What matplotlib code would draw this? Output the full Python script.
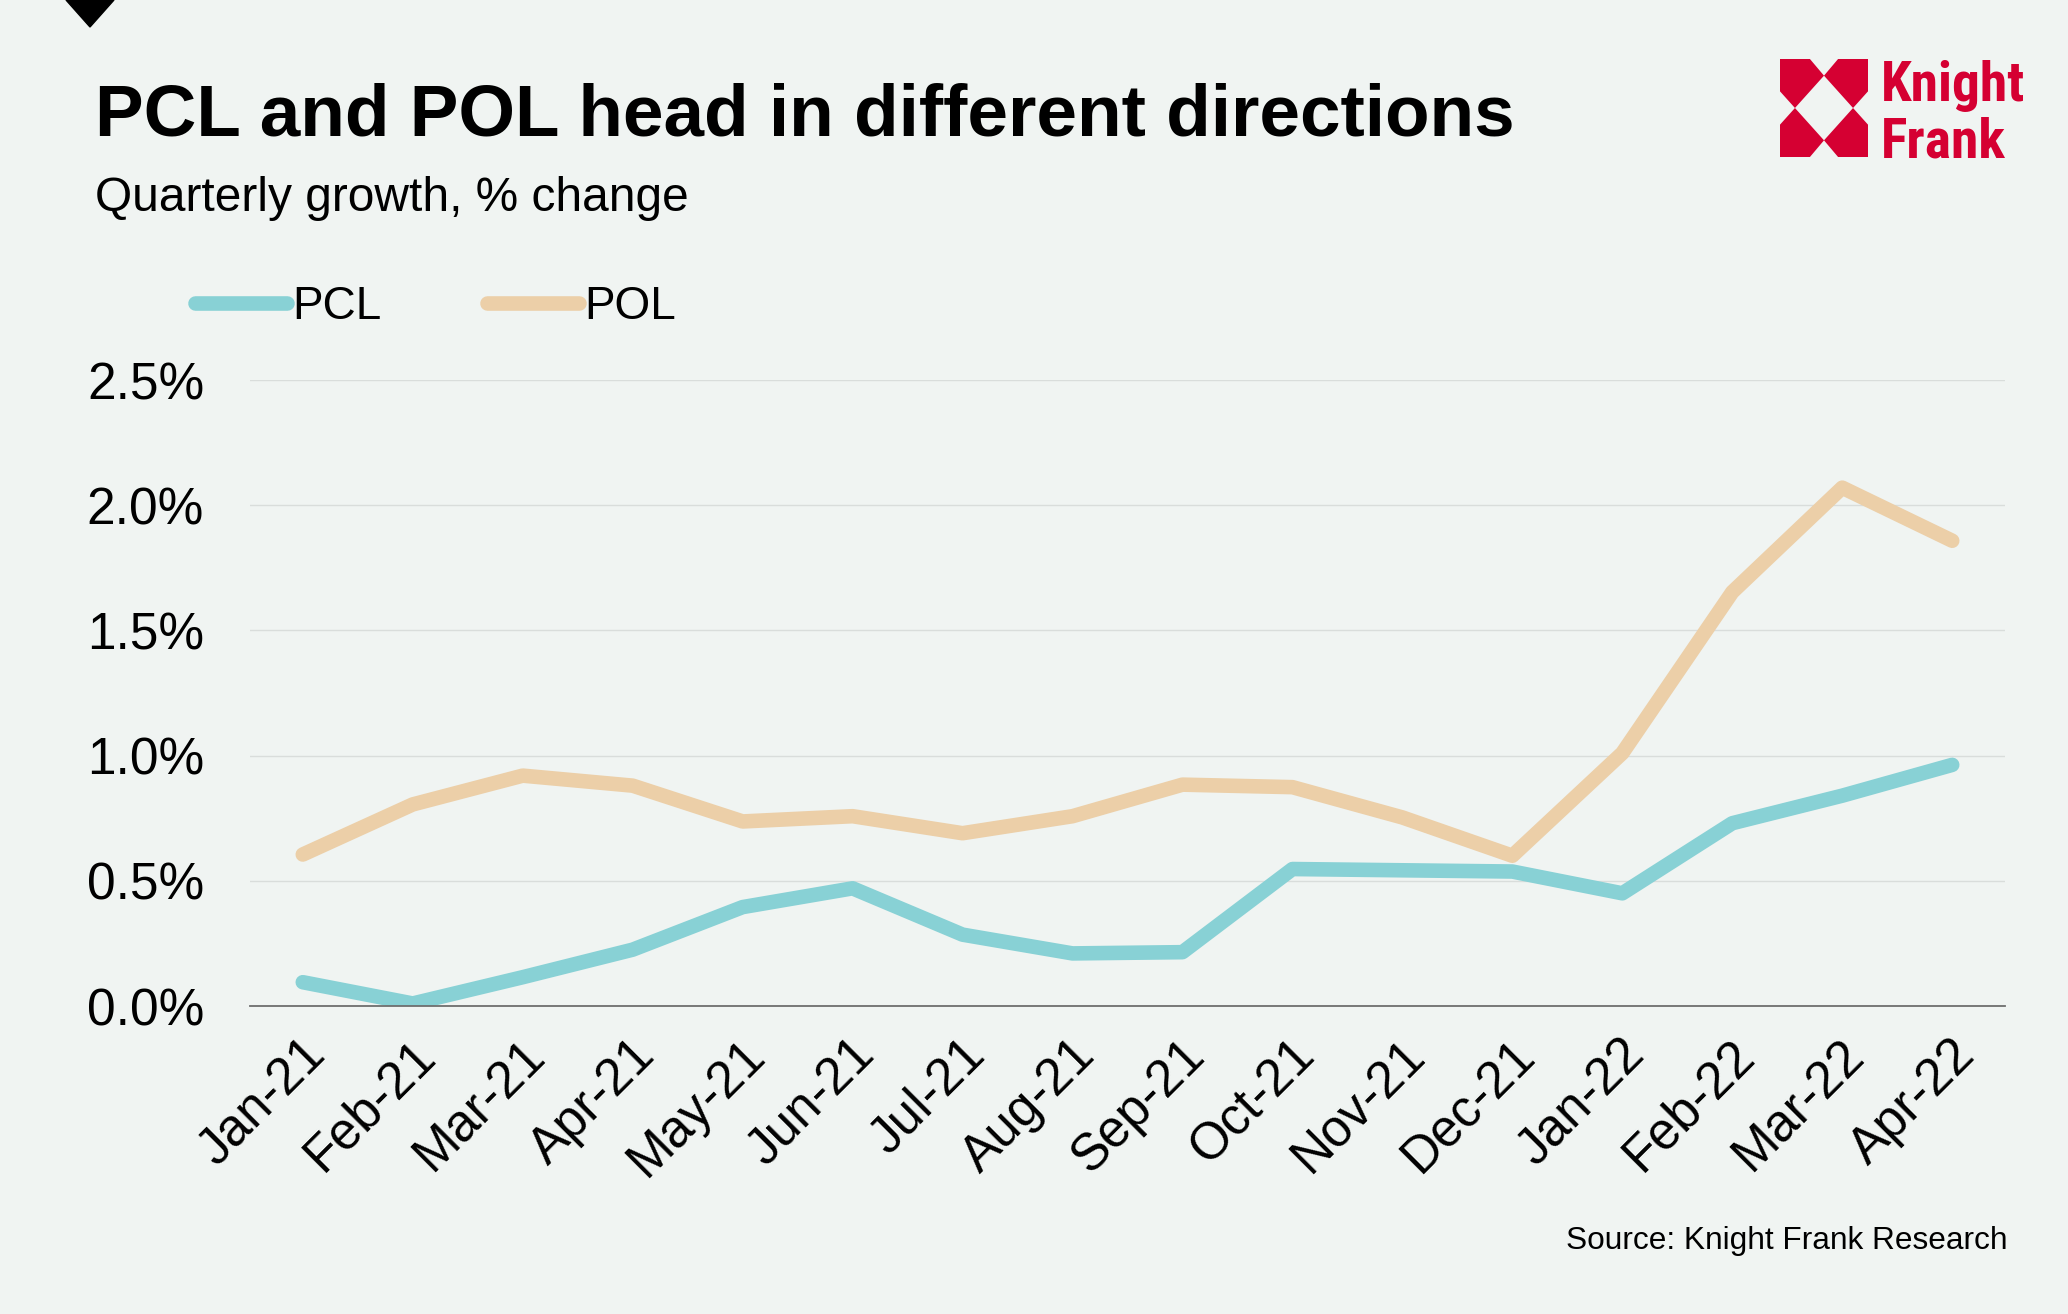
import matplotlib.pyplot as plt
from matplotlib.patches import Polygon
from matplotlib.transforms import ScaledTranslation
from matplotlib import font_manager

W, H = 2068, 1314
BG = "#F0F4F2"
RED = "#D50032"

months = ["Jan-21", "Feb-21", "Mar-21", "Apr-21", "May-21", "Jun-21", "Jul-21", "Aug-21",
          "Sep-21", "Oct-21", "Nov-21", "Dec-21", "Jan-22", "Feb-22", "Mar-22", "Apr-22"]
pcl = [0.095, 0.01, 0.115, 0.225, 0.395, 0.47, 0.285, 0.21,
       0.215, 0.547, 0.542, 0.537, 0.45, 0.73, 0.84, 0.963]
pol = [0.605, 0.805, 0.92, 0.88, 0.737, 0.758, 0.69, 0.758,
       0.884, 0.874, 0.753, 0.60, 1.01, 1.653, 2.07, 1.858]
yticks = [0.0, 0.5, 1.0, 1.5, 2.0, 2.5]

plt.rcParams['font.family'] = ['Liberation Sans', 'DejaVu Sans']

# pick a narrow face for the logo if one is around
names = {f.name for f in font_manager.fontManager.ttflist}
logo_font = 'Liberation Sans'
logo_size = 35
for cand in ['Liberation Sans Narrow', 'DejaVu Sans Condensed', 'Roboto Condensed']:
    if cand in names:
        logo_font = cand
        logo_size = 40
        break


def fx(px):
    return px / W


def fy(py):
    return 1 - py / H


fig = plt.figure(figsize=(W / 100, H / 100), dpi=100, facecolor=BG)
ax = fig.add_axes([fx(250), fy(1006), fx(2005) - fx(250), fy(380) - fy(1006)])
ax.set_facecolor(BG)

x = list(range(len(months)))
ax.plot(x, pcl, color="#88D1D5", lw=10.5, solid_capstyle='round', solid_joinstyle='round',
        label="PCL", zorder=3)
ax.plot(x, pol, color="#ECCFA8", lw=10.5, solid_capstyle='round', solid_joinstyle='round',
        label="POL", zorder=3)

ax.set_xlim(-0.48, len(months) - 1 + 0.48)
ax.set_ylim(0, 2.5)
ax.set_yticks(yticks)
ax.set_yticklabels([f"{v:.1f}%" for v in yticks])
ax.yaxis.grid(True, color="#D9DDDB", lw=1)
ax.set_axisbelow(True)
for s in ["top", "right", "left"]:
    ax.spines[s].set_visible(False)
ax.spines["bottom"].set_color("#6E6E6E")
ax.spines["bottom"].set_linewidth(1.3)
ax.spines["bottom"].set_zorder(4)
ax.tick_params(axis='both', length=0, labelsize=37)
ax.tick_params(axis='y', pad=33)
ax.tick_params(axis='x', pad=30)

ax.set_xticks(x)
ax.set_xticklabels(months, rotation=45, ha='right', va='center', rotation_mode='anchor')
for lbl in ax.get_xticklabels():
    lbl.set_transform(lbl.get_transform() + ScaledTranslation(0.15, 0, fig.dpi_scale_trans))

leg = ax.legend(loc='center left', bbox_to_anchor=(fx(195), fy(307)), bbox_transform=fig.transFigure,
                ncol=2, frameon=False, fontsize=33, handlelength=2.0, handletextpad=0.12,
                columnspacing=2.3, borderpad=0, borderaxespad=0)

# titles
fig.text(fx(95), fy(136), "PCL and POL head in different directions", fontsize=52.5,
         fontweight='bold', va='baseline')
fig.text(fx(95), fy(211), "Quarterly growth, % change", fontsize=34.5, va='baseline')
fig.text(fx(2008), fy(1249), "Source: Knight Frank Research", fontsize=22.8, ha='right', va='baseline')

# corner triangle
fig.add_artist(Polygon([(fx(66), fy(0)), (fx(114), fy(0)), (fx(90), fy(27))],
                       closed=True, color='black', transform=fig.transFigure))

# logo
x0, x1, y0, y1 = 1780, 1868, 59, 157
pieces = [
    [(0, 0), (0.34, 0), (0.5, 0.17), (0.17, 0.5), (0, 0.33)],
    [(0.66, 0), (1, 0), (1, 0.33), (0.83, 0.5), (0.5, 0.17)],
    [(1, 0.67), (1, 1), (0.66, 1), (0.5, 0.83), (0.83, 0.5)],
    [(0, 0.67), (0.17, 0.5), (0.5, 0.83), (0.34, 1), (0, 1)],
]
for p in pieces:
    pts = [(fx(x0 + u * (x1 - x0)), fy(y0 + v * (y1 - y0))) for u, v in p]
    fig.add_artist(Polygon(pts, closed=True, color=RED, lw=0, transform=fig.transFigure))
fig.text(fx(1881), fy(101), "Knight", fontsize=logo_size, color=RED, family=logo_font,
         fontweight='bold', va='baseline')
fig.text(fx(1881), fy(157), "Frank", fontsize=logo_size, color=RED, family=logo_font,
         fontweight='bold', va='baseline')

fig.savefig("out.png", dpi=100, facecolor=BG)
